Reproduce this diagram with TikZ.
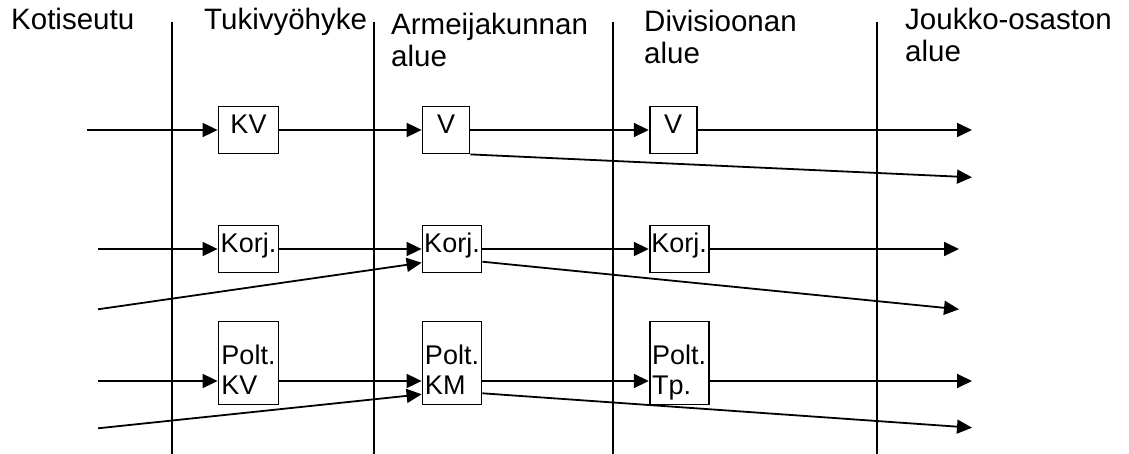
\documentclass[tikz,border=0pt]{standalone}
\usepackage{fontspec}
\setmainfont{Liberation Sans}
\usetikzlibrary{arrows.meta}
\begin{document}
\begin{tikzpicture}[x=1pt,y=-1pt,
  lane/.style={line width=1.8pt},
  arr/.style={line width=1.8pt,-{Triangle[length=15pt,width=14pt]}},
  boxbase/.style={draw,line width=1.8pt,inner sep=0pt,minimum height=47pt,
    font=\fontsize{27}{30}\selectfont},
  box/.style={boxbase,text height=0.72em,text depth=0pt},
  tallbox/.style={boxbase,minimum height=83pt},
  hd/.style={anchor=base west,inner sep=0pt,font=\fontsize{29.5}{32}\selectfont}]
\useasboundingbox (0,0) rectangle (1129,454);

% headings
\node[hd] (h1) at (11,30) {Kotiseutu};
\node[hd] (h2) at (204,30) {Tukivyöhyke};
\node[hd] (h3) at (391,35) {\begin{tabular}[t]{@{}l@{}}Armeijakunnan\\alue\end{tabular}};
\node[hd] (h4) at (644,32) {\begin{tabular}[t]{@{}l@{}}Divisioonan\\alue\end{tabular}};
\node[hd] (h5) at (905,30) {\begin{tabular}[t]{@{}l@{}}Joukko-osaston\\alue\end{tabular}};

% lane separators
\foreach \x/\n in {172/1,374/2,613/3,877/4}{
  \coordinate (l\n t) at (\x,22);
  \coordinate (l\n b) at (\x,454);
  \draw[lane] (l\n t) -- (l\n b);
}

% boxes
\node[box,minimum width=60pt] (kv1) at (248.5,130) {KV};
\node[box,minimum width=47pt] (v1) at (446,130) {V};
\node[box,minimum width=47pt] (v2) at (673.2,130) {V};
\node[box,minimum width=60pt] (k1) at (248.5,249) {Korj.};
\node[box,minimum width=59pt] (k2) at (452,249) {Korj.};
\node[box,minimum width=59pt] (k3) at (679.2,249) {Korj.};
\node[tallbox,minimum width=60pt] (p1) at (248.5,362.9)
  {\raisebox{-32pt}[0pt][0pt]{\begin{tabular}[b]{@{}l@{}}Polt.\\KV\end{tabular}}};
\node[tallbox,minimum width=59pt] (p2) at (452,362.9)
  {\raisebox{-32pt}[0pt][0pt]{\begin{tabular}[b]{@{}l@{}}Polt.\\KM\end{tabular}}};
\node[tallbox,minimum width=59pt] (p3) at (679.2,362.9)
  {\raisebox{-32pt}[0pt][0pt]{\begin{tabular}[b]{@{}l@{}}Polt.\\Tp.\end{tabular}}};

% row 1
\coordinate (a1) at (87,130);
\coordinate (o1) at (972,130);
\coordinate (o1b) at (972,177.3);
\draw[arr] (a1) -- (kv1);
\draw[arr] (kv1) -- (v1);
\draw[arr] (v1) -- (v2);
\draw[arr] (v2) -- (o1);
\draw[arr] (v1.south east) -- (o1b);

% row 2
\coordinate (a2) at (98,249);
\coordinate (a2b) at (98,309.3);
\coordinate (o2) at (959,249);
\coordinate (o2b) at (959,309.3);
\draw[arr] (a2) -- (k1);
\draw[arr] (k1) -- (k2);
\draw[arr] (k2) -- (k3);
\draw[arr] (k3) -- (o2);
\draw[arr] (a2b) -- ([yshift=-13.7pt]k2.west);
\draw[arr] ([yshift=-12.7pt]k2.east) -- (o2b);

% row 3
\coordinate (a3) at (98,381);
\coordinate (a3b) at (98,428.3);
\coordinate (o3) at (972,381);
\coordinate (o3b) at (972,427.7);
\draw[arr] (a3) -- (a3 -| p1.west);
\draw[arr] (p1.east |- a3) -- (p2.west |- a3);
\draw[arr] (p2.east |- a3) -- (p3.west |- a3);
\draw[arr] (p3.east |- a3) -- (o3);
\draw[arr] (a3b) -- ([yshift=-31.4pt]p2.west);
\draw[arr] ([yshift=-30.4pt]p2.east) -- (o3b);
\end{tikzpicture}
\end{document}
